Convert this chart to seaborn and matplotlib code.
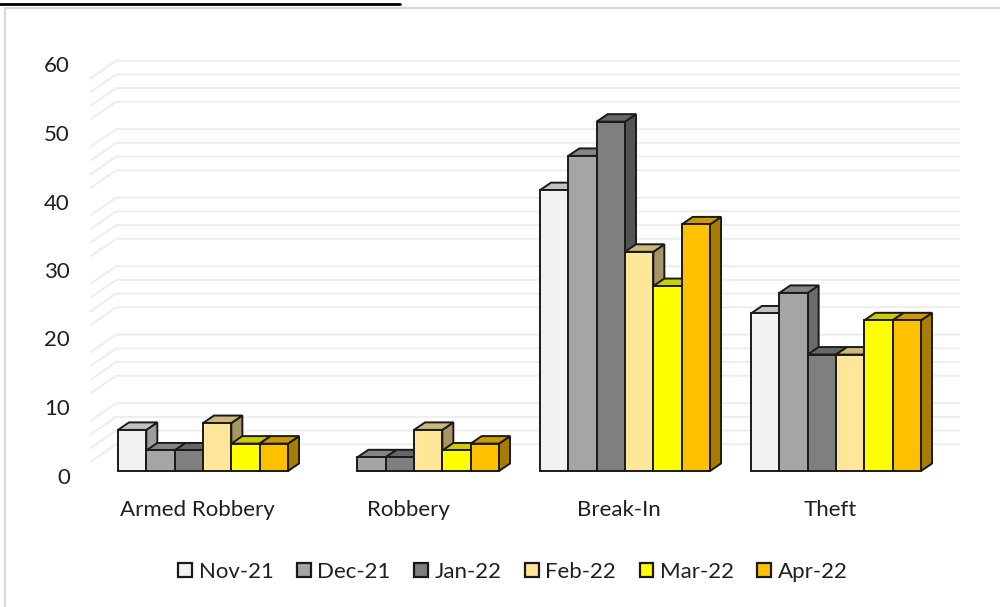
import numpy as np
import pandas as pd
import matplotlib
matplotlib.use("Agg")
import matplotlib.pyplot as plt
import seaborn as sns
from matplotlib.patches import Polygon, Patch, Rectangle
from matplotlib.lines import Line2D
import matplotlib.colors as mcolors

# ---------------- data ----------------
categories = ["Armed Robbery", "Robbery", "Break-In", "Theft"]
months = ["Nov-21", "Dec-21", "Jan-22", "Feb-22", "Mar-22", "Apr-22"]
nov_21 = [6, 0, 41, 23]
dec_21 = [3, 2, 46, 26]
jan_22 = [3, 2, 51, 17]
feb_22 = [7, 6, 32, 17]
mar_22 = [4, 3, 27, 22]
apr_22 = [4, 4, 36, 22]
month_colors = ["#F2F2F2", "#A5A5A5", "#7F7F7F", "#FFE699", "#FFFF00", "#FFC000"]
y_ticks = [0, 10, 20, 30, 40, 50, 60]
minor_grid = [v for v in range(2, 60, 2) if v % 10]

rows = []
for m, vals in zip(months, [nov_21, dec_21, jan_22, feb_22, mar_22, apr_22]):
    for c, v in zip(categories, vals):
        rows.append({"category": c, "month": m, "value": v})
df = pd.DataFrame(rows)

# ---------------- style ----------------
sns.set_theme(style="white")
plt.rcParams['font.family'] = ['Lato', 'DejaVu Sans']
FS = 16
TXT = "#1F1F1F"

W, H = 1000, 607
fig = plt.figure(figsize=(W / 100, H / 100), dpi=100)
fig.patch.set_facecolor("white")
ax = fig.add_axes([97.5 / W, (H - 505.25) / H, 844 / W, 465.8 / H])

sns.barplot(data=df, x="category", y="value", hue="month", order=categories,
            hue_order=months, palette=month_colors, width=0.806, saturation=1,
            edgecolor="#1A1A1A", linewidth=1.4, legend=False, ax=ax)

ax.set_xlim(-0.5, 3.5)
ax.set_ylim(-5, 63)
ax.axis("off")

# pixel -> data scale
p0 = ax.transData.transform((0, 0))
p1 = ax.transData.transform((1, 1))
sx = p1[0] - p0[0]
sy = p1[1] - p0[1]

# walls: minor gridlines on side wall and back wall
grid_c = "#EDEDED"
for v in minor_grid:
    ax.plot([-0.5 - 7.5 / sx, -0.5 + 18.5 / sx, 3.5 + 18.5 / sx],
            [v - 5 / sy, v + 13 / sy, v + 13 / sy],
            color=grid_c, lw=1.4, zorder=1, clip_on=False, solid_capstyle="butt")


def shade(c, f):
    r, g, b, a = mcolors.to_rgba(c)
    return (r * f, g * f, b * f, 1)


ddx = 11 / sx
ddy = 7.5 / sy
bars = sorted([p for p in ax.patches if isinstance(p, Rectangle)], key=lambda p: p.get_x())
for i, p in enumerate(bars):
    x0, w, h = p.get_x(), p.get_width(), p.get_height()
    base = 10 + 3 * i
    if h <= 0:
        p.set_visible(False)
        continue
    fc = p.get_facecolor()
    side = Polygon([(x0 + w, 0), (x0 + w, h), (x0 + w + ddx, h + ddy), (x0 + w + ddx, ddy)],
                   closed=True, facecolor=shade(fc, 0.65), edgecolor="#1A1A1A",
                   lw=1.4, zorder=base, clip_on=False, joinstyle="miter")
    top = Polygon([(x0, h), (x0 + w, h), (x0 + w + ddx, h + ddy), (x0 + ddx, h + ddy)],
                  closed=True, facecolor=shade(fc, 0.8), edgecolor="#1A1A1A",
                  lw=1.4, zorder=base + 1, clip_on=False, joinstyle="miter")
    ax.add_patch(side)
    ax.add_patch(top)
    p.set_zorder(base + 2)
    p.set_clip_on(False)

# y labels
for v in y_ticks:
    ax.text(-0.5 - 27.5 / sx, v - 6.5 / sy, str(v), ha="right", va="center",
            fontsize=FS, color=TXT, clip_on=False)

# category labels
for i, c in enumerate(categories):
    ax.text(i - 6 / sx, -39 / sy, c, ha="center", va="center",
            fontsize=FS, color=TXT, clip_on=False)

# legend
handles = [Patch(facecolor=c, edgecolor="#1A1A1A", lw=1.6) for c in month_colors]
fig.legend(handles, months, loc="center", bbox_to_anchor=(513 / W, 1 - 572 / H),
           ncol=6, frameon=False, fontsize=FS, handlelength=0.62, handleheight=0.62,
           handletextpad=0.3, columnspacing=1.05, labelcolor=TXT)

# chart border and top underline remnant
fig.add_artist(Line2D([5 / W, 1], [1 - 8 / H] * 2, transform=fig.transFigure,
                      color="#D9D9D9", lw=1.6))
fig.add_artist(Line2D([5 / W] * 2, [0, 1 - 8 / H], transform=fig.transFigure,
                      color="#D9D9D9", lw=1.6))
fig.add_artist(Line2D([0, 400 / W], [1 - 3.5 / H] * 2, transform=fig.transFigure,
                      color="black", lw=2.0))

fig.savefig("out.png", dpi=100)
